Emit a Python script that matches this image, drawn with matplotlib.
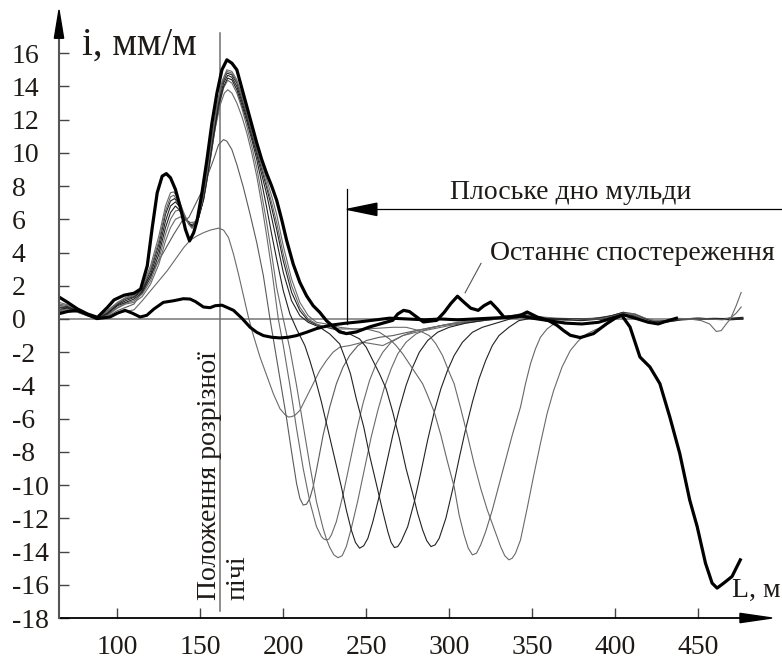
import matplotlib
matplotlib.use('Agg')
import matplotlib.pyplot as plt
from matplotlib.patches import Polygon

plt.rcParams['font.family'] = ['Liberation Serif', 'DejaVu Serif']
plt.rcParams['axes.unicode_minus'] = False

# ---------------- data ----------------
x_ticks = [100, 150, 200, 250, 300, 350, 400, 450]
y_ticks = list(range(-18, 17, 2))

# thin curves (successive observations)
c1_x = [65, 70, 76, 82, 88, 94, 100, 105, 110, 115, 120, 125, 130, 135, 140, 144, 148, 152, 156, 161, 164, 167, 170, 173, 176, 179, 182, 186, 190, 194, 198, 201, 203, 205, 207, 210, 214, 218, 222, 226, 230, 234, 240, 248, 254, 260, 266, 272, 280, 290, 300, 310, 320, 330, 343, 355, 370, 385, 398, 405, 412, 420, 425, 432, 440, 450, 460, 470, 477]
c1_y = [0.4, 0.45, 0.4, 0.18, 0.0, 0.1, 0.35, 0.45, 0.55, 1.1, 1.7, 2.3, 2.9, 3.6, 4.3, 4.75, 5.0, 5.2, 5.35, 5.47, 5.35, 4.9, 3.9, 2.7, 1.4, 0.1, -1.0, -2.3, -3.4, -4.5, -5.4, -5.75, -5.9, -5.88, -5.8, -5.5, -4.7, -3.9, -3.1, -2.5, -2.0, -1.7, -1.6, -1.4, -1.5, -1.6, -1.3, -1.0, -0.8, -0.6, -0.4, -0.25, -0.1, 0.0, 0.2, 0.05, 0.0, 0.0, 0.2, 0.3, 0.15, -0.15, -0.25, -0.1, 0.0, 0.0, 0.0, 0.0, 0.0]

c2_x = [65, 70, 76, 82, 88, 94, 100, 105, 110, 114, 118, 122, 126, 130, 134, 139, 143, 147, 151, 155, 158, 161, 164, 166, 169, 172, 176, 180, 184, 188, 192, 195, 198, 202, 205, 208, 210, 212, 214, 216, 218, 220, 224, 228, 232, 236, 240, 245, 250, 258, 266, 275, 285, 295, 310, 325, 343, 355, 370, 385, 398, 405, 412, 418, 424, 430, 440, 450, 460, 470, 477]
c2_y = [0.45, 0.5, 0.42, 0.2, 0.01, 0.15, 0.5, 0.7, 0.9, 1.5, 2.3, 3.0, 3.7, 4.4, 5.1, 5.9, 6.1, 6.9, 7.7, 8.8, 9.6, 10.5, 10.8, 10.7, 10.2, 9.3, 7.9, 6.3, 4.6, 2.6, 0.0, -1.8, -3.6, -6.0, -8.0, -9.9, -10.8, -11.2, -11.15, -10.8, -10.1, -9.1, -7.0, -5.3, -3.9, -2.9, -2.2, -1.6, -1.3, -1.1, -1.0, -0.8, -0.6, -0.4, -0.2, -0.05, 0.2, 0.05, 0.0, 0.0, 0.15, 0.3, 0.2, 0.0, -0.15, -0.1, 0.0, 0.0, 0.0, 0.0, 0.0]

c3_x = [65, 70, 76, 82, 88, 94, 100, 105, 110, 115, 120, 125, 129, 132, 135, 138, 141, 144, 147, 150, 153, 156, 159, 162, 164.5, 166.5, 169, 172, 175, 178, 181, 184, 187, 190, 193, 197, 200, 204, 208, 212, 216, 220, 223, 224.5, 226, 227.5, 229, 232, 236, 240, 244, 248, 252, 256, 260, 265, 272, 280, 290, 300, 315, 330, 343, 352, 365, 380, 392, 398, 405, 412, 418, 424, 430, 440, 450, 460, 470, 477]
c3_y = [0.5, 0.55, 0.45, 0.22, 0.02, 0.2, 0.65, 0.9, 1.0, 1.35, 2.1, 3.3, 4.7, 5.5, 6.0, 6.15, 5.95, 5.8, 5.85, 6.5, 7.8, 9.6, 11.5, 12.9, 13.6, 13.8, 13.6, 13.0, 12.2, 11.2, 10.0, 8.6, 6.9, 5.0, 3.0, 0.0, -1.6, -4.0, -6.6, -9.0, -11.0, -12.5, -13.1, -13.25, -13.3, -13.25, -13.0, -12.2, -10.6, -8.7, -6.8, -5.1, -3.7, -2.7, -2.0, -1.4, -1.0, -0.7, -0.5, -0.3, -0.1, 0.05, 0.3, 0.15, 0.05, 0.0, 0.05, 0.2, 0.4, 0.3, 0.05, -0.1, -0.1, 0.0, 0.05, 0.0, 0.0, 0.05]

c4_x = [65, 70, 76, 82, 88, 94, 100, 105, 110, 115, 120, 125, 129, 132, 135, 137, 140, 143, 146, 149, 152, 155, 158, 161, 164, 166.5, 169, 172, 175, 178, 181, 184, 187, 190, 193, 196, 200, 204, 208, 212, 216, 220, 224, 226, 228, 230.5, 233, 235.5, 238, 241, 245, 249, 253, 257, 261, 265, 269, 274, 280, 287, 295, 305, 315, 325, 343, 352, 365, 380, 392, 398, 405, 412, 418, 424, 430, 440, 450, 460, 470, 477]
c4_y = [0.55, 0.6, 0.48, 0.24, 0.03, 0.25, 0.7, 0.95, 1.1, 1.5, 2.3, 3.6, 5.1, 6.0, 6.5, 6.55, 6.2, 5.85, 5.75, 6.2, 7.2, 8.9, 10.9, 12.7, 13.9, 14.37, 14.2, 13.6, 12.7, 11.6, 10.4, 9.1, 7.5, 5.8, 3.9, 1.9, 0.0, -1.8, -4.0, -6.4, -8.8, -11.0, -12.6, -13.25, -13.75, -14.2, -14.37, -14.25, -13.7, -12.6, -10.9, -9.0, -7.1, -5.5, -4.1, -3.0, -2.1, -1.4, -0.9, -0.6, -0.4, -0.2, -0.1, 0.0, 0.3, 0.15, 0.0, -0.05, 0.0, 0.2, 0.4, 0.3, 0.05, -0.15, -0.2, -0.05, 0.0, 0.05, 0.0, 0.0]

c5_x = [65, 70, 76, 82, 88, 94, 100, 105, 110, 115, 120, 125, 129, 132, 135, 138, 141, 144, 146, 149, 152, 155, 158, 161, 164, 166.5, 169, 172, 175, 178, 181, 184, 187, 190, 193, 196, 200, 204, 208, 213, 216, 219, 223, 227, 231, 235, 238, 241, 243.5, 246, 248.5, 251, 254, 258, 262, 266, 270, 274, 278, 282, 287, 293, 300, 310, 320, 330, 343, 352, 365, 380, 392, 398, 405, 412, 418, 424, 430, 440, 450, 460, 470, 477]
c5_y = [0.6, 0.65, 0.5, 0.25, 0.04, 0.3, 0.8, 1.0, 1.2, 1.6, 2.5, 3.9, 5.5, 6.4, 6.8, 6.5, 6.0, 5.7, 5.65, 6.1, 7.2, 9.0, 11.0, 12.8, 14.0, 14.5, 14.4, 13.8, 12.9, 11.9, 10.8, 9.6, 8.2, 6.7, 5.1, 3.6, 1.7, 0.3, -0.6, -1.6, -2.5, -3.5, -5.0, -6.7, -8.4, -10.1, -11.5, -12.7, -13.45, -13.8, -13.65, -13.2, -12.2, -10.6, -8.8, -7.0, -5.4, -4.0, -2.9, -2.0, -1.3, -0.8, -0.5, -0.25, -0.1, 0.05, 0.25, 0.1, -0.05, -0.1, 0.0, 0.15, 0.35, 0.25, 0.0, -0.2, -0.2, -0.05, 0.0, 0.0, 0.05, 0.1]

c6_x = [65, 70, 76, 82, 88, 94, 100, 105, 110, 115, 120, 125, 129, 132, 135, 138, 141, 144, 146, 149, 152, 155, 158, 161, 164, 166.5, 169, 172, 175, 178, 181, 184, 187, 190, 193, 196, 200, 205, 210, 215, 222, 228, 234, 237, 240.5, 244, 248.5, 252, 256.5, 260, 263, 265, 267, 269, 271, 275, 279, 283, 287, 291, 295, 299, 303, 308, 314, 320, 330, 340, 350, 365, 380, 392, 398, 405, 412, 418, 424, 430, 440, 450, 460, 470, 477]
c6_y = [0.7, 0.7, 0.52, 0.27, 0.05, 0.35, 0.85, 1.1, 1.3, 1.7, 2.7, 4.2, 5.9, 6.8, 7.05, 6.7, 6.1, 5.65, 5.6, 6.1, 7.3, 9.2, 11.2, 13.0, 14.2, 14.67, 14.55, 14.0, 13.1, 12.1, 11.0, 9.9, 8.7, 7.5, 6.1, 4.7, 2.8, 1.1, 0.2, -0.2, -0.5, -0.9, -1.5, -2.3, -3.3, -4.8, -6.5, -8.2, -10.1, -11.6, -12.8, -13.45, -13.76, -13.7, -13.4, -12.5, -11.0, -9.2, -7.3, -5.6, -4.2, -3.1, -2.2, -1.4, -0.8, -0.5, -0.2, 0.1, 0.05, 0.0, -0.05, 0.05, 0.15, 0.3, 0.2, -0.05, -0.2, -0.15, 0.0, 0.05, 0.0, 0.0, 0.05]

c7_x = [65, 70, 76, 82, 88, 94, 100, 105, 110, 115, 120, 125, 129, 132, 134.5, 137, 140, 143, 145, 148, 151, 154, 157, 160, 163, 166, 169, 172, 175, 178, 181, 184, 187, 190, 193, 196, 200, 205, 210, 215, 220, 226, 234, 240, 246, 250, 254, 258, 262, 266, 270, 274, 278, 281, 284, 286.5, 289, 291.5, 294, 298, 302, 306, 310, 314, 318, 322, 326, 330, 336, 342, 350, 360, 375, 390, 398, 405, 412, 418, 424, 430, 440, 450, 460, 470, 477]
c7_y = [0.8, 0.75, 0.55, 0.28, 0.06, 0.4, 0.9, 1.2, 1.35, 1.8, 2.9, 4.5, 6.3, 7.1, 7.25, 6.95, 6.3, 5.75, 5.55, 5.9, 6.9, 8.7, 10.8, 12.7, 14.1, 14.8, 14.7, 14.2, 13.3, 12.3, 11.2, 10.1, 9.0, 7.9, 6.7, 5.4, 3.5, 1.6, 0.5, -0.1, -0.35, -0.5, -0.7, -0.9, -1.2, -1.7, -2.5, -3.3, -4.2, -5.6, -7.2, -9.0, -10.5, -11.7, -12.7, -13.35, -13.7, -13.6, -13.2, -12.0, -10.3, -8.4, -6.6, -5.0, -3.6, -2.5, -1.6, -1.0, -0.5, -0.1, 0.05, 0.0, 0.0, 0.05, 0.2, 0.4, 0.2, -0.1, -0.2, -0.1, 0.0, 0.0, 0.0, -0.05, 0.0]

c8_x = [65, 70, 76, 82, 88, 94, 100, 105, 110, 115, 120, 125, 129, 132, 134, 137, 140, 143, 145, 148, 151, 154, 157, 160, 163, 166, 169, 172, 175, 178, 181, 184, 187, 190, 193, 196, 200, 205, 210, 215, 220, 226, 234, 242, 250, 258, 264, 268, 272, 276, 280, 284, 287, 291, 295, 299, 303, 306, 309, 311.5, 314, 316.5, 319, 322, 326, 330, 334, 338, 343, 346, 349, 352, 355, 359, 363, 370, 380, 390, 398, 405, 411, 418, 424, 430, 436, 445, 455, 465, 470, 473, 476]
c8_y = [0.9, 0.8, 0.58, 0.3, 0.07, 0.45, 0.95, 1.25, 1.4, 1.9, 3.0, 4.7, 6.5, 7.35, 7.45, 7.0, 6.3, 5.7, 5.5, 5.9, 7.0, 8.8, 10.9, 12.8, 14.2, 14.9, 14.8, 14.3, 13.4, 12.4, 11.3, 10.2, 9.2, 8.1, 7.0, 5.8, 3.9, 2.0, 0.7, 0.0, -0.3, -0.5, -0.6, -0.6, -0.6, -0.8, -1.2, -1.6, -2.1, -2.7, -3.3, -3.9, -4.6, -5.6, -7.0, -8.6, -10.1, -11.8, -13.0, -13.8, -14.2, -14.1, -13.6, -12.8, -11.5, -10.0, -8.5, -7.0, -5.3, -3.9, -2.7, -1.8, -1.1, -0.6, -0.3, -0.1, 0.0, 0.0, 0.15, 0.35, 0.25, -0.05, -0.25, -0.15, 0.05, 0.0, 0.0, -0.05, 0.1, 0.35, 0.72]

c9_x = [65, 70, 76, 82, 88, 94, 100, 105, 110, 115, 120, 125, 129, 132, 134, 137, 140, 143, 145, 148, 151, 154, 157, 160, 163, 166, 169, 172, 175, 178, 181, 184, 187, 190, 193, 196, 200, 205, 210, 215, 220, 226, 234, 242, 250, 258, 266, 274, 282, 288, 292, 296, 300, 303, 307, 311, 315, 319, 323, 327, 331, 333.5, 336, 338, 340, 343, 347, 351, 355, 359, 363, 368, 373, 378, 383, 388, 393, 398, 403, 407, 412, 418, 424, 430, 436, 445, 452, 457, 461, 464, 467, 469.5, 473, 476]
c9_y = [1.0, 0.85, 0.6, 0.3, 0.08, 0.5, 1.0, 1.3, 1.45, 2.0, 3.2, 5.0, 6.8, 7.6, 7.65, 7.2, 6.4, 5.7, 5.45, 5.9, 7.1, 8.9, 11.0, 12.9, 14.3, 15.0, 14.9, 14.4, 13.5, 12.5, 11.4, 10.4, 9.4, 8.4, 7.4, 6.3, 4.4, 2.4, 1.0, 0.2, -0.2, -0.3, -0.5, -0.6, -0.6, -0.55, -0.5, -0.5, -0.7, -1.0, -1.5, -2.2, -3.2, -3.9, -5.4, -7.0, -8.7, -10.2, -11.5, -12.6, -13.7, -14.25, -14.5, -14.4, -14.1, -13.3, -11.4, -9.4, -7.5, -5.7, -4.3, -2.9, -1.9, -1.3, -0.9, -0.65, -0.45, -0.15, 0.15, 0.35, 0.25, -0.05, -0.25, -0.15, 0.0, 0.0, -0.1, -0.3, -0.75, -0.7, -0.3, 0.0, 0.8, 1.6]

# bold curve: last observation
last_x = [65, 70, 76, 82, 88, 94, 98, 104, 110, 114, 118, 121, 124, 127, 129.5, 132, 135, 138, 141, 143.5, 146, 148, 151, 154, 157, 160, 163, 166, 169, 172, 175, 178, 181, 184, 187, 190, 193, 196, 199, 202, 206, 210, 214, 218, 222, 226, 230, 234, 238, 244, 252, 260, 266, 269, 272.5, 276, 280, 284.5, 292.5, 297, 301, 305, 309, 313, 317.5, 321, 325, 329, 333, 341, 347, 353, 360, 365, 369, 373, 379, 387, 395, 400, 404, 409, 415, 421, 427, 433, 439, 445, 449.5, 454.5, 458.5, 461.5, 465.5, 470.5, 475.5]
last_y = [1.31, 1.0, 0.6, 0.3, 0.1, 0.7, 1.15, 1.43, 1.55, 1.8, 3.2, 5.5, 7.6, 8.6, 8.75, 8.5, 7.8, 6.7, 5.4, 4.7, 5.2, 5.9, 7.6, 9.6, 11.8, 13.6, 15.0, 15.6, 15.4, 15.0, 13.9, 12.8, 11.7, 10.6, 9.6, 8.75, 8.0, 7.15, 6.0, 4.74, 3.3, 2.2, 1.4, 0.8, 0.4, -0.1, -0.45, -0.78, -0.88, -0.78, -0.48, -0.25, -0.08, 0.3, 0.52, 0.45, 0.15, -0.18, -0.08, 0.4, 0.93, 1.37, 1.0, 0.65, 0.52, 0.8, 1.02, 0.6, 0.12, 0.12, 0.42, 0.12, -0.1, -0.38, -0.7, -0.98, -1.12, -0.88, -0.28, 0.05, 0.22, -0.48, -2.29, -2.89, -3.89, -5.9, -8.1, -10.9, -12.5, -14.7, -15.9, -16.2, -15.9, -15.5, -14.5]

# bold curve: first observation
first_x = [65, 70, 75.5, 80, 87.6, 95.6, 100, 104.6, 109, 113.7, 117.7, 122, 127.7, 134, 139.8, 143.8, 147, 151.9, 155.9, 159, 163, 166, 170, 175, 180, 184, 188, 193, 198, 203, 208, 214, 220, 228, 238, 248, 256, 264, 275, 285, 295, 305, 315, 325, 335, 342, 350, 360, 370, 380, 390, 400, 405, 412, 420, 426, 432, 437]
first_y = [0.32, 0.45, 0.52, 0.35, 0.02, 0.12, 0.35, 0.52, 0.35, 0.12, 0.22, 0.6, 1.0, 1.1, 1.22, 1.2, 1.05, 0.72, 0.68, 0.8, 0.83, 0.7, 0.52, 0.05, -0.5, -0.8, -1.0, -1.1, -1.14, -1.1, -1.0, -0.8, -0.58, -0.38, -0.25, -0.15, -0.05, 0.05, 0.0, -0.05, 0.0, -0.05, 0.0, 0.05, 0.1, 0.2, 0.05, -0.1, -0.25, -0.3, -0.2, 0.1, 0.25, 0.05, -0.2, -0.3, -0.1, 0.05]

thin_x = [c1_x, c2_x, c3_x, c4_x, c5_x, c6_x, c7_x, c8_x, c9_x]
thin_y = [c1_y, c2_y, c3_y, c4_y, c5_y, c6_y, c7_y, c8_y, c9_y]
thin_colors = ['#6a6a6a', '#5a5a5a', '#6a6a6a', '#6a6a6a', '#222222', '#222222', '#222222', '#666666', '#6a6a6a']

cut_position = 161.9
flat_bottom_start = 238.4

# ---------------- figure ----------------
TXT = '#1e1a17'
fig = plt.figure(figsize=(7.82, 6.59), dpi=100)
ax = fig.add_axes([59 / 782, 41 / 659, 713 / 782, 608 / 659])
X0, X1 = 64.8, 494.6
Y0, Y1 = -18.0, 18.6
ax.set_xlim(X0, X1)
ax.set_ylim(Y0, Y1)
for s in ax.spines.values():
    s.set_visible(False)

ax.set_xticks(x_ticks)
ax.set_yticks(y_ticks)
ax.tick_params(axis='both', direction='in', length=7, width=1.0, color='#444444',
               labelsize=20, labelcolor=TXT)
ax.tick_params(axis='y', pad=34)
ax.tick_params(axis='x', pad=12)
for lab in ax.get_yticklabels():
    lab.set_horizontalalignment('left')

# axis lines with arrows
ax.plot([X0, 476.0], [Y0, Y0], color='black', lw=1.3, clip_on=False, zorder=5)
ax.add_patch(Polygon([[475.3, Y0 + 0.28], [X1, Y0], [475.3, Y0 - 0.28]], closed=True,
                     color='black', clip_on=False, zorder=5))
ax.plot([X0, X0], [Y0, 17.0], color='#555555', lw=1.5, clip_on=False, zorder=5)
ax.add_patch(Polygon([[X0 - 2.8, 16.9], [X0, Y1], [X0 + 2.8, 16.9]], closed=True,
                     color='black', clip_on=False, zorder=5))

# zero line and cut line
ax.plot([X0, 476.0], [0, 0], color='#808080', lw=1.2, zorder=1)
ax.plot([cut_position, cut_position], [-17.55, 17.2], color='#707070', lw=1.1, zorder=1)

# curves
for xs, ys, col in zip(thin_x, thin_y, thin_colors):
    ax.plot(xs, ys, color=col, lw=0.8, zorder=2, solid_joinstyle='round')
ax.plot(first_x, first_y, color='black', lw=2.2, zorder=3, solid_joinstyle='round')
ax.plot(last_x, last_y, color='black', lw=2.3, zorder=4, solid_joinstyle='round')

# flat bottom annotation
ax.plot([flat_bottom_start, flat_bottom_start], [-0.3, 7.85], color='black', lw=0.9)
ax.plot([flat_bottom_start, 500.6], [6.6, 6.6], color='black', lw=0.9, clip_on=False)
ax.add_patch(Polygon([[flat_bottom_start, 6.6], [flat_bottom_start + 18, 6.97],
                      [flat_bottom_start + 18, 6.23]], closed=True, color='black'))
ax.text(300.5, 7.59, 'Плоське дно мульди', fontsize=20, color=TXT,
        ha='left', va='center')

# last observation label
ax.plot([319.2, 309.6], [3.35, 1.58], color='#555555', lw=0.8)
ax.text(324.6, 3.97, 'Останнє спостереження', fontsize=20, color=TXT,
        ha='left', va='center')

# axis titles
ax.text(78.7, 15.9, 'i, мм/м', fontsize=28, color=TXT, ha='left', va='baseline')
ax.text(470.3, -16.72, 'L, м', fontsize=20, color=TXT, ha='left', va='baseline',
        clip_on=False)

# rotated label
ax.text(159.4, -16.92, 'Положення розрізної', fontsize=20, color=TXT, rotation=90,
        rotation_mode='anchor', ha='left', va='baseline')
ax.text(176.5, -16.92, 'пічі', fontsize=20, color=TXT, rotation=90,
        rotation_mode='anchor', ha='left', va='baseline')

fig.savefig('out.png', dpi=100)
